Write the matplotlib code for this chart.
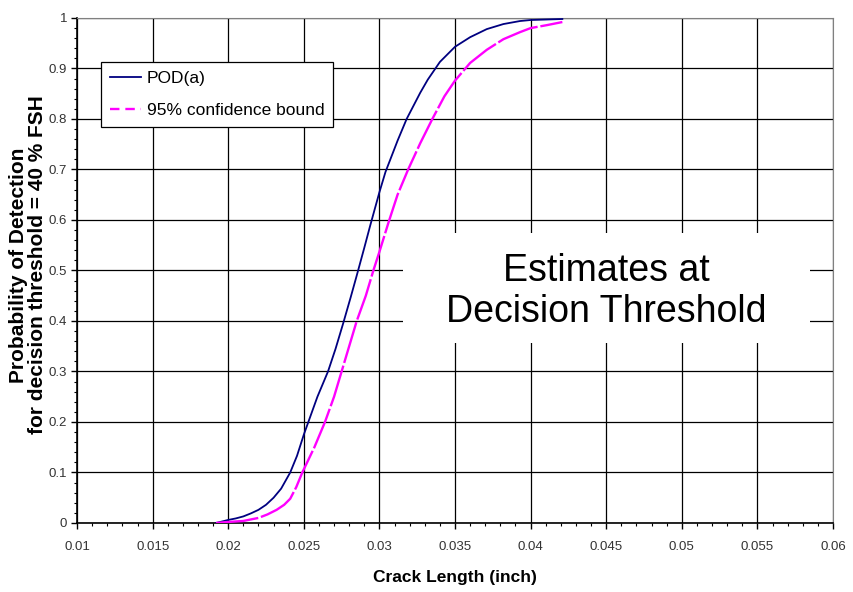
import matplotlib
matplotlib.use('Agg')
import matplotlib.pyplot as plt
from matplotlib.lines import Line2D
from matplotlib.patches import Rectangle
from matplotlib.ticker import MultipleLocator

#%% data
pod_x = [0.0192, 0.0196, 0.0200, 0.0205, 0.0210, 0.0215, 0.0220, 0.0225, 0.0230, 0.0235,
         0.0241, 0.02455, 0.0250, 0.0253, 0.0259, 0.0266, 0.0271, 0.0276, 0.0281, 0.0285,
         0.0290, 0.0294, 0.0300, 0.0304, 0.0312, 0.0318, 0.0327, 0.0332, 0.0340, 0.0350,
         0.0360, 0.0371, 0.0382, 0.0393, 0.0400, 0.0421]
pod_y = [0.0, 0.003, 0.006, 0.009, 0.013, 0.019, 0.026, 0.036, 0.050, 0.068,
         0.100, 0.133, 0.175, 0.200, 0.250, 0.300, 0.345, 0.395, 0.447, 0.490,
         0.545, 0.590, 0.655, 0.695, 0.757, 0.800, 0.852, 0.878, 0.913, 0.943,
         0.962, 0.978, 0.988, 0.994, 0.996, 0.998]

bound_x = [0.0192, 0.0200, 0.0210, 0.0215, 0.0220, 0.0226, 0.0232, 0.0237, 0.0241, 0.0245,
           0.0249, 0.0257, 0.0264, 0.0270, 0.0275, 0.0280, 0.0285, 0.0291, 0.0296, 0.0300,
           0.0306, 0.0312, 0.0319, 0.0327, 0.0335, 0.0343, 0.0350, 0.0360, 0.0371, 0.0382,
           0.0393, 0.0400, 0.0411, 0.0421]
bound_y = [0.0, 0.002, 0.004, 0.007, 0.010, 0.017, 0.026, 0.036, 0.048, 0.071,
           0.100, 0.150, 0.200, 0.250, 0.300, 0.350, 0.400, 0.450, 0.500, 0.537,
           0.595, 0.650, 0.700, 0.752, 0.800, 0.845, 0.876, 0.911, 0.937, 0.958,
           0.972, 0.980, 0.986, 0.992]

x_ticks = [0.01, 0.015, 0.02, 0.025, 0.03, 0.035, 0.04, 0.045, 0.05, 0.055, 0.06]
x_labels = ['0.01', '0.015', '0.02', '0.025', '0.03', '0.035', '0.04', '0.045', '0.05', '0.055', '0.06']
y_ticks = [0, 0.1, 0.2, 0.3, 0.4, 0.5, 0.6, 0.7, 0.8, 0.9, 1]
y_labels = ['0', '0.1', '0.2', '0.3', '0.4', '0.5', '0.6', '0.7', '0.8', '0.9', '1']

font = 'Liberation Sans'

#%% plot
fig = plt.figure(figsize=(8.54, 5.92), dpi=100)
ax = fig.add_axes([0.0902, 0.1166, 0.8852, 0.853])

ax.plot(pod_x, pod_y, color='#000080', lw=1.3, zorder=4)
ax.plot(bound_x, bound_y, color='#ff00ff', lw=1.7, linestyle=(0, (18, 1.2)), zorder=4)

ax.set_xlim(0.01, 0.06)
ax.set_ylim(0, 1)
ax.set_xticks(x_ticks)
ax.set_xticklabels(x_labels)
ax.set_yticks(y_ticks)
ax.set_yticklabels(y_labels)
ax.xaxis.set_minor_locator(MultipleLocator(0.001))
ax.yaxis.set_minor_locator(MultipleLocator(0.02))
ax.tick_params(which='major', direction='out', length=4, width=1, color='black',
               labelsize=9.5, labelcolor='#333333')
ax.tick_params(axis='x', which='major', pad=9)
ax.tick_params(axis='y', which='major', pad=3)
ax.tick_params(which='minor', direction='out', length=2.5, width=0.8, color='black')
for lab in ax.get_xticklabels() + ax.get_yticklabels():
    lab.set_family(font)

ax.grid(True, which='major', color='black', lw=0.9, zorder=1)
ax.set_axisbelow(True)
for side in ['top', 'right']:
    ax.spines[side].set_color('#808080')
for side in ['left', 'bottom']:
    ax.spines[side].set_linewidth(1.2)

ax.set_xlabel('Crack Length (inch)', family=font, fontsize=12.5, fontweight='bold', labelpad=12)
fig.text(28.5 / 854, 1 - 265 / 592, 'Probability of Detection\nfor decision threshold = 40 % FSH',
         rotation=90, ha='center', va='center', family=font, fontsize=15,
         fontweight='bold', linespacing=1.0)

# white box over the grid with the annotation text
ax.add_patch(Rectangle((0.431, 0.356), 0.539, 0.218, transform=ax.transAxes,
                       facecolor='white', edgecolor='none', zorder=2))
ax.text(0.70, 0.458, 'Estimates at\nDecision Threshold', transform=ax.transAxes,
        ha='center', va='center', fontsize=27, family=font,
        linespacing=1.2, zorder=3)

handles = [Line2D([], [], color='#000080', lw=1.3),
           Line2D([], [], color='#ff00ff', lw=1.7, linestyle=(0, (4, 2.5)))]
leg = ax.legend(handles, ['POD(a)', '95% confidence bound'], loc='upper left',
                bbox_to_anchor=(0.0317, 0.913), borderaxespad=0, fancybox=False,
                framealpha=1, edgecolor='black', handlelength=1.8, handletextpad=0.35,
                borderpad=0.5, labelspacing=1.0, prop={'family': font, 'size': 12.5})
leg.get_frame().set_linewidth(0.9)
leg.set_zorder(5)

fig.savefig('out.png', dpi=100)
